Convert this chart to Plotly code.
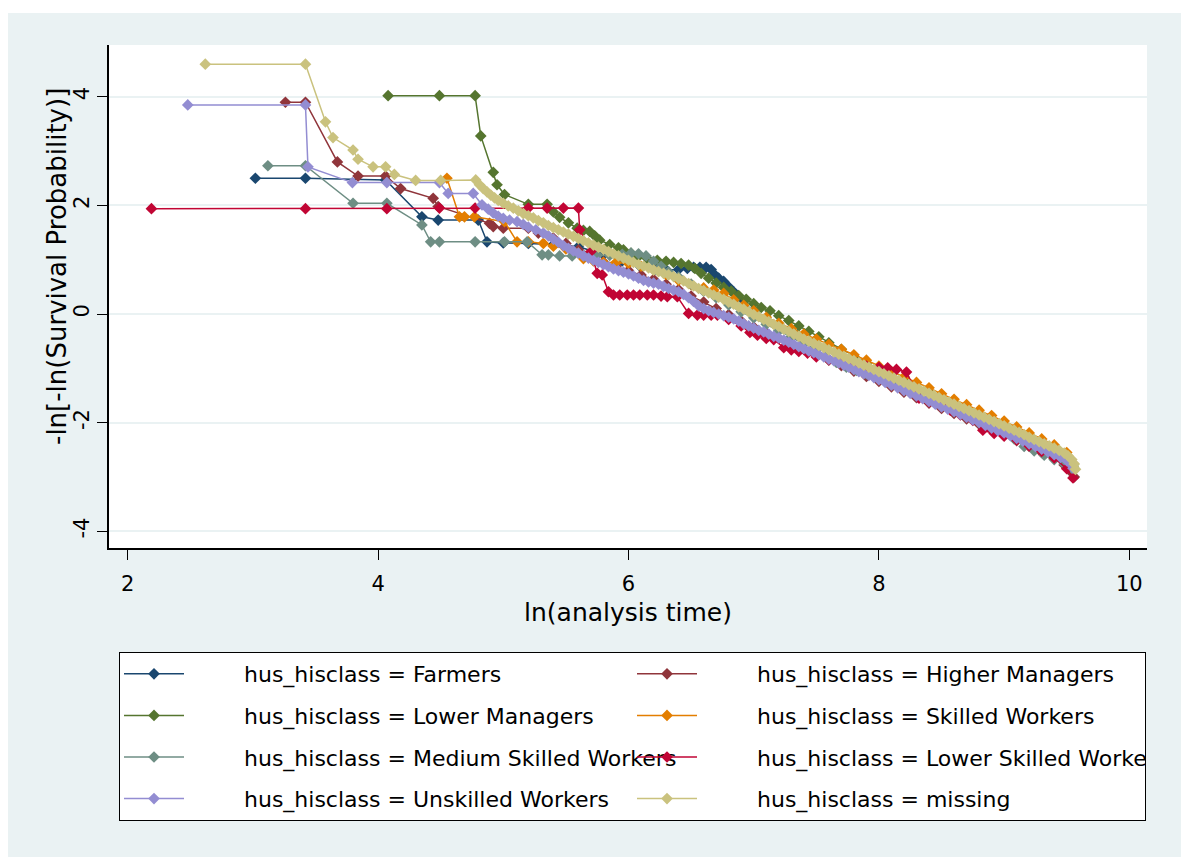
import plotly.graph_objects as go

# ---------------- data ----------------
series_names = [
    "hus_hisclass = Farmers",
    "hus_hisclass = Higher Managers",
    "hus_hisclass = Lower Managers",
    "hus_hisclass = Skilled Workers",
    "hus_hisclass = Medium Skilled Workers",
    "hus_hisclass = Lower Skilled Workers",
    "hus_hisclass = Unskilled Workers",
    "hus_hisclass = missing",
]
series_colors = ["#1A476F", "#90353B", "#55752F", "#E37E00",
                 "#6E8E84", "#C10534", "#938DD2", "#CAC27E"]

farmers_x = [3.02, 3.42, 4.06, 4.35, 4.48, 4.80, 4.87, 5.00, 5.20, 5.40, 5.60, 5.80, 5.95, 6.10,
             6.22, 6.30, 6.40, 6.47, 6.52, 6.57, 6.62, 6.66, 6.69, 6.72, 6.76, 6.80, 6.84, 6.90,
             7.00, 7.10, 7.20, 7.35, 7.50, 7.70, 7.90, 8.10, 8.30, 8.50, 8.70, 8.90, 9.10, 9.30,
             9.45, 9.55]
farmers_y = [2.50, 2.50, 2.47, 1.79, 1.73, 1.73, 1.33, 1.31, 1.30, 1.28, 1.24, 1.10, 0.98, 0.86,
             0.82, 0.81, 0.82, 0.84, 0.86, 0.86, 0.86, 0.82, 0.72, 0.66, 0.60, 0.50, 0.41, 0.25,
             0.05, -0.10, -0.22, -0.40, -0.57, -0.78, -0.98, -1.18, -1.38, -1.58, -1.78, -1.98,
             -2.20, -2.42, -2.60, -2.82]

higher_x = [3.26, 3.42, 3.675, 3.84, 4.06, 4.18, 4.44, 4.48, 4.89, 4.92, 5.00, 5.20, 5.28,
            5.40, 5.50, 5.60, 5.70, 5.80, 5.90, 6.00, 6.10, 6.20, 6.30, 6.40, 6.50, 6.60, 6.70,
            6.80, 6.90, 7.00, 7.10, 7.20, 7.30, 7.40, 7.50, 7.60, 7.70, 7.80, 7.90, 8.00, 8.10,
            8.20, 8.30, 8.40, 8.50, 8.60, 8.70, 8.80, 8.90, 9.00, 9.10, 9.20, 9.30, 9.40, 9.48,
            9.53, 9.56]
higher_y = [3.90, 3.90, 2.80, 2.54, 2.54, 2.31, 2.13, 1.98, 1.67, 1.61, 1.58, 1.58, 1.49,
            1.40, 1.30, 1.18, 1.06, 0.96, 0.88, 0.80, 0.72, 0.64, 0.55, 0.45, 0.33, 0.22, 0.10,
            -0.01, -0.13, -0.24, -0.35, -0.45, -0.55, -0.65, -0.75, -0.85, -0.95, -1.05, -1.15,
            -1.24, -1.34, -1.44, -1.54, -1.64, -1.74, -1.83, -1.93, -2.03, -2.13, -2.23, -2.33,
            -2.44, -2.55, -2.66, -2.78, -2.90, -3.00]

lowermgr_x = [4.08, 4.49, 4.775, 4.82, 4.92, 4.95, 5.01, 5.20, 5.35, 5.40, 5.45, 5.52, 5.59,
              5.64, 5.69, 5.73, 5.77, 5.85, 5.92, 5.96, 6.02, 6.08, 6.15, 6.23, 6.30, 6.36, 6.42,
              6.48, 6.53, 6.58, 6.64, 6.70, 6.76, 6.82, 6.88, 6.94, 7.00, 7.06, 7.13, 7.20, 7.28,
              7.36, 7.44, 7.52, 7.60, 7.70, 7.80, 7.90, 8.00, 8.10, 8.20, 8.30, 8.40, 8.50, 8.60,
              8.70, 8.80, 8.90, 9.00, 9.10, 9.20, 9.30, 9.40, 9.50, 9.55]
lowermgr_y = [4.02, 4.02, 4.02, 3.28, 2.61, 2.38, 2.20, 2.02, 2.02, 1.88, 1.78, 1.68, 1.58,
              1.54, 1.52, 1.44, 1.36, 1.28, 1.22, 1.18, 1.12, 1.06, 1.02, 0.99, 0.97, 0.95, 0.93,
              0.90, 0.84, 0.75, 0.66, 0.57, 0.49, 0.42, 0.34, 0.27, 0.19, 0.12, 0.06, -0.03, -0.12,
              -0.22, -0.32, -0.42, -0.53, -0.65, -0.78, -0.90, -1.02, -1.13, -1.24, -1.34, -1.44,
              -1.54, -1.64, -1.74, -1.84, -1.94, -2.05, -2.16, -2.27, -2.38, -2.49, -2.62, -2.80]

skilled_x = [4.55, 4.65, 4.69, 4.77, 5.01, 5.11, 5.20, 5.32, 5.40, 5.50, 5.60, 5.64, 5.72,
             5.80, 5.90, 6.00, 6.10, 6.20, 6.30, 6.40, 6.50, 6.60, 6.68, 6.76, 6.84, 6.92, 7.00,
             7.10, 7.20, 7.30, 7.40, 7.50, 7.60, 7.70, 7.80, 7.90, 8.00, 8.10, 8.20, 8.30, 8.40,
             8.50, 8.60, 8.70, 8.80, 8.90, 9.00, 9.10, 9.20, 9.30, 9.40, 9.50, 9.55]
skilled_y = [2.50, 1.79, 1.79, 1.79, 1.70, 1.33, 1.33, 1.30, 1.25, 1.20, 1.12, 1.02, 0.98,
             0.95, 0.95, 0.93, 0.88, 0.82, 0.73, 0.62, 0.54, 0.48, 0.44, 0.38, 0.26, 0.16, 0.06,
             -0.06, -0.17, -0.27, -0.37, -0.46, -0.56, -0.65, -0.75, -0.85, -0.96, -1.06, -1.16,
             -1.26, -1.36, -1.47, -1.57, -1.67, -1.77, -1.87, -1.97, -2.08, -2.19, -2.30, -2.41,
             -2.55, -2.75]

medium_x = [3.12, 3.42, 3.80, 4.07, 4.35, 4.42, 4.49, 4.775, 5.01, 5.19, 5.31, 5.36, 5.45,
            5.55, 5.65, 5.75, 5.85, 5.95, 6.02, 6.08, 6.14, 6.20, 6.26, 6.32, 6.40, 6.50, 6.60,
            6.70, 6.80, 6.90, 7.00, 7.10, 7.20, 7.30, 7.40, 7.50, 7.58, 7.66, 7.74, 7.82, 7.90,
            8.00, 8.10, 8.20, 8.30, 8.40, 8.50, 8.60, 8.70, 8.80, 8.90, 9.00, 9.08, 9.16, 9.24,
            9.32, 9.40, 9.48, 9.54]
medium_y = [2.73, 2.73, 2.04, 2.04, 1.64, 1.33, 1.33, 1.33, 1.33, 1.33, 1.09, 1.09, 1.07,
            1.07, 1.07, 1.08, 1.08, 1.10, 1.12, 1.11, 1.07, 0.97, 0.88, 0.78, 0.68, 0.55, 0.42,
            0.30, 0.17, 0.04, -0.07, -0.19, -0.31, -0.42, -0.54, -0.65, -0.79, -0.89, -0.98,
            -1.04, -1.10, -1.18, -1.27, -1.37, -1.47, -1.57, -1.66, -1.76, -1.85, -1.95, -2.05,
            -2.16, -2.30, -2.44, -2.52, -2.60, -2.68, -2.76, -2.85]

lowskill_x = [2.19, 3.42, 4.07, 4.49, 4.775, 5.20, 5.35, 5.48, 5.60, 5.61, 5.70, 5.75, 5.79,
              5.84, 5.88, 5.93, 5.99, 6.04, 6.09, 6.15, 6.20, 6.26, 6.31, 6.39, 6.48, 6.55, 6.60,
              6.66, 6.71, 6.80, 6.90, 6.97, 7.03, 7.10, 7.16, 7.24, 7.30, 7.36, 7.43, 7.50, 7.60,
              7.70, 7.80, 7.90, 8.00, 8.07, 8.14, 8.22, 8.28, 8.32, 8.40, 8.50, 8.57, 8.65, 8.75,
              8.83, 8.92, 9.00, 9.10, 9.20, 9.30, 9.40, 9.50, 9.55]
lowskill_y = [1.94, 1.94, 1.94, 1.95, 1.95, 1.95, 1.95, 1.95, 1.95, 1.55, 1.15, 0.75, 0.72,
              0.41, 0.35, 0.35, 0.35, 0.35, 0.35, 0.35, 0.35, 0.33, 0.32, 0.32, 0.01, -0.02, -0.02,
              -0.02, -0.02, -0.10, -0.22, -0.34, -0.39, -0.45, -0.47, -0.62, -0.66, -0.69, -0.72,
              -0.79, -0.84, -0.90, -0.94, -0.96, -0.98, -0.99, -1.02, -1.07, -1.35, -1.55, -1.62,
              -1.70, -1.77, -1.86, -1.96, -2.14, -2.20, -2.25, -2.32, -2.43, -2.53, -2.65, -2.85,
              -3.02]

unskilled_x = [2.48, 3.42, 3.44, 3.795, 4.07, 4.49, 4.56, 4.76, 4.83, 4.88, 4.92, 4.96, 5.00,
               5.05, 5.11, 5.16, 5.20, 5.26, 5.32, 5.36, 5.40, 5.44, 5.48, 5.52, 5.56, 5.60, 5.64,
               5.68, 5.72, 5.76, 5.80, 5.84, 5.88, 5.92, 5.96, 6.00, 6.04, 6.08, 6.12, 6.16, 6.20,
               6.24, 6.28, 6.32, 6.36, 6.40, 6.44, 6.48, 6.52, 6.56, 6.60, 6.64, 6.68, 6.72, 6.76,
               6.80, 6.84, 6.88, 6.92, 6.96, 7.00, 7.04, 7.08, 7.12, 7.16, 7.20, 7.24, 7.28, 7.32,
               7.36, 7.40, 7.44, 7.48, 7.52, 7.56, 7.60, 7.64, 7.68, 7.72, 7.76, 7.80, 7.84, 7.88,
               7.92, 7.96, 8.00, 8.05, 8.10, 8.15, 8.20, 8.25, 8.30, 8.35, 8.40, 8.45, 8.50, 8.55,
               8.60, 8.65, 8.70, 8.75, 8.80, 8.85, 8.90, 8.95, 9.00, 9.05, 9.10, 9.15, 9.20, 9.25,
               9.30, 9.35, 9.40, 9.45, 9.50, 9.53, 9.55]
unskilled_y = [3.85, 3.85, 2.71, 2.42, 2.42, 2.42, 2.22, 2.22, 2.01, 1.93, 1.86, 1.80, 1.76,
               1.73, 1.70, 1.65, 1.60, 1.55, 1.49, 1.44, 1.38, 1.32, 1.26, 1.21, 1.16, 1.12, 1.07,
               1.03, 0.99, 0.95, 0.91, 0.87, 0.83, 0.80, 0.77, 0.74, 0.70, 0.66, 0.62, 0.59, 0.57,
               0.55, 0.51, 0.47, 0.44, 0.41, 0.36, 0.30, 0.23, 0.15, 0.10, 0.06, 0.03, 0.00, -0.03,
               -0.06, -0.09, -0.13, -0.18, -0.22, -0.26, -0.30, -0.33, -0.37, -0.41, -0.44, -0.48,
               -0.52, -0.56, -0.60, -0.64, -0.68, -0.71, -0.75, -0.79, -0.83, -0.86, -0.90, -0.94,
               -0.98, -1.02, -1.06, -1.10, -1.13, -1.17, -1.21, -1.26, -1.31, -1.36, -1.41, -1.46,
               -1.51, -1.56, -1.61, -1.66, -1.71, -1.75, -1.80, -1.85, -1.90, -1.95, -2.00, -2.05,
               -2.10, -2.15, -2.19, -2.24, -2.29, -2.34, -2.39, -2.44, -2.49, -2.54, -2.59, -2.64,
               -2.70, -2.76, -2.84]

missing_x = [2.62, 3.42, 3.58, 3.64, 3.80, 3.84, 3.96, 4.06, 4.13, 4.30, 4.50, 4.78, 4.81, 4.84,
             4.87, 4.90, 4.93, 4.96, 5.00, 5.04, 5.08, 5.12, 5.16, 5.20, 5.24, 5.28, 5.32, 5.36,
             5.40, 5.44, 5.48, 5.52, 5.56, 5.60, 5.64, 5.68, 5.72, 5.76, 5.80, 5.84, 5.88, 5.92,
             5.96, 6.00, 6.04, 6.08, 6.12, 6.16, 6.20, 6.24, 6.28, 6.32, 6.36, 6.40, 6.44, 6.48,
             6.52, 6.56, 6.60, 6.64, 6.68, 6.72, 6.76, 6.80, 6.84, 6.88, 6.92, 6.96, 7.00, 7.04,
             7.08, 7.12, 7.16, 7.20, 7.24, 7.28, 7.32, 7.36, 7.40, 7.44, 7.48, 7.52, 7.56, 7.60,
             7.64, 7.68, 7.72, 7.76, 7.80, 7.84, 7.88, 7.92, 7.96, 8.00, 8.04, 8.08, 8.12, 8.16,
             8.20, 8.24, 8.28, 8.32, 8.36, 8.40, 8.44, 8.48, 8.52, 8.56, 8.60, 8.64, 8.68, 8.72,
             8.76, 8.80, 8.84, 8.88, 8.92, 8.96, 9.00, 9.04, 9.08, 9.12, 9.16, 9.20, 9.24, 9.28,
             9.32, 9.36, 9.40, 9.44, 9.48, 9.51, 9.54, 9.56, 9.57]
missing_y = [4.60, 4.60, 3.54, 3.25, 3.02, 2.85, 2.71, 2.71, 2.57, 2.46, 2.46, 2.47, 2.38, 2.31,
             2.25, 2.19, 2.14, 2.09, 2.04, 1.99, 1.95, 1.90, 1.85, 1.81, 1.77, 1.72, 1.68, 1.63,
             1.59, 1.55, 1.51, 1.47, 1.43, 1.39, 1.35, 1.31, 1.27, 1.23, 1.19, 1.15, 1.11, 1.07,
             1.03, 0.99, 0.95, 0.91, 0.88, 0.85, 0.81, 0.78, 0.75, 0.72, 0.69, 0.65, 0.61, 0.56,
             0.52, 0.47, 0.43, 0.39, 0.35, 0.31, 0.27, 0.22, 0.18, 0.13, 0.09, 0.04, -0.01, -0.05,
             -0.10, -0.14, -0.19, -0.23, -0.28, -0.32, -0.37, -0.41, -0.46, -0.50, -0.54, -0.58,
             -0.62, -0.66, -0.70, -0.74, -0.78, -0.82, -0.86, -0.90, -0.94, -0.98, -1.02, -1.06,
             -1.10, -1.14, -1.18, -1.22, -1.26, -1.30, -1.34, -1.38, -1.42, -1.46, -1.50, -1.54,
             -1.58, -1.62, -1.66, -1.70, -1.74, -1.78, -1.82, -1.86, -1.90, -1.94, -1.98, -2.02,
             -2.06, -2.10, -2.14, -2.18, -2.22, -2.27, -2.31, -2.35, -2.39, -2.43, -2.47, -2.51,
             -2.56, -2.61, -2.68, -2.76, -2.86]

series_x = [farmers_x, higher_x, lowermgr_x, skilled_x, medium_x, lowskill_x, unskilled_x, missing_x]
series_y = [farmers_y, higher_y, lowermgr_y, skilled_y, medium_y, lowskill_y, unskilled_y, missing_y]

x_ticks = [2, 4, 6, 8, 10]
y_ticks = [-4, -2, 0, 2, 4]
x_title = "ln(analysis time)"
y_title = "-ln[-ln(Survival Probability)]"

# ---------------- figure ----------------
FONT = "DejaVu Sans, Verdana, sans-serif"
BG = "#EAF2F3"
LEG_PAD = "\u2003\u2003\u2002"   # gap between legend key and label, as in the reference

fig = go.Figure()
for i, (name, col, xs, ys) in enumerate(zip(series_names, series_colors, series_x, series_y)):
    fig.add_trace(go.Scatter(
        x=xs, y=ys, name=LEG_PAD + name, mode="lines+markers",
        legendgroup="g%d" % i,
        line=dict(color=col, width=1.5),
        marker=dict(symbol="diamond", size=9, color=col, line=dict(width=0)),
    ))

W, H = 1181, 857
ml, mr, mt, mb = 109, 34, 45, 309
pw, ph = W - ml - mr, H - mt - mb

def px2paper_x(p):
    return (p - ml) / pw

def px2paper_y(p):
    return (H - mb - p) / ph

fig.update_layout(
    width=W, height=H,
    margin=dict(l=ml, r=mr, t=mt, b=mb, pad=0, autoexpand=False),
    paper_bgcolor=BG, plot_bgcolor="white",
    font=dict(family=FONT, size=21, color="black"),
    showlegend=True,
    legend=dict(
        orientation="h",
        x=px2paper_x(119), y=px2paper_y(652), xanchor="left", yanchor="top",
        bgcolor="white", bordercolor="black", borderwidth=1,
        entrywidth=438, entrywidthmode="pixels",
        itemwidth=60, tracegroupgap=10,
        font=dict(family=FONT, size=22, color="black"),
        traceorder="grouped",
    ),
    xaxis=dict(
        range=[1.851, 10.141], tickvals=x_ticks, ticktext=[str(v) for v in x_ticks],
        showgrid=False, zeroline=False, showline=True, linecolor="black", linewidth=1.5,
        ticks="outside", ticklen=10, tickwidth=1, tickcolor="black",
        tickfont=dict(family=FONT, size=21), ticklabelstandoff=6,
        title=dict(text=x_title, font=dict(family=FONT, size=25), standoff=9),
    ),
    yaxis=dict(
        range=[-4.309, 4.954], tickvals=y_ticks, ticktext=[str(v) for v in y_ticks],
        showgrid=True, gridcolor=BG, gridwidth=1.5,
        zeroline=False, showline=True, linecolor="black", linewidth=1.5,
        ticks="outside", ticklen=10, tickwidth=1, tickcolor="black",
        tickangle=-90, tickfont=dict(family=FONT, size=21),
    ),
    shapes=[
        dict(type="rect", xref="paper", yref="paper", layer="below",
             x0=px2paper_x(-5), x1=px2paper_x(8), y0=px2paper_y(H + 5), y1=px2paper_y(-5),
             fillcolor="white", line=dict(width=0)),
        dict(type="rect", xref="paper", yref="paper", layer="below",
             x0=px2paper_x(-5), x1=px2paper_x(W + 5), y0=px2paper_y(13), y1=px2paper_y(-5),
             fillcolor="white", line=dict(width=0)),
    ],
    annotations=[
        dict(text=y_title, xref="paper", yref="paper",
             x=px2paper_x(57), y=px2paper_y(267), textangle=-90,
             showarrow=False, xanchor="center", yanchor="middle",
             font=dict(family=FONT, size=26, color="black")),
    ],
)

fig.write_html("out.html")
